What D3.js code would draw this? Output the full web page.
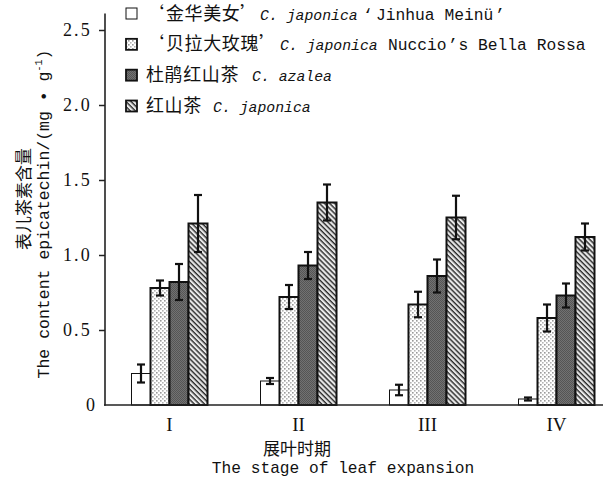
<!DOCTYPE html>
<html><head><meta charset="utf-8">
<script src="https://cdn.jsdelivr.net/npm/d3@7"></script>
<style>
html,body{margin:0;padding:0;background:#fff;}
svg{display:block;}
.cjk{font-family:"Noto Sans CJK SC",sans-serif;}
.mono{font-family:"Liberation Mono","Courier New",monospace;}
</style>
</head><body>
<svg id="chart" width="603" height="482"></svg>
<script>
// ---- data ----
const categories = ["I", "II", "III", "IV"];
const seriesKeys = ["jinhua", "bella", "azalea", "japonica"];
const jinhuaValues   = [0.21, 0.16, 0.10, 0.04];
const jinhuaErrors   = [0.06, 0.02, 0.035, 0.01];
const bellaValues    = [0.78, 0.72, 0.67, 0.58];
const bellaErrors    = [0.05, 0.08, 0.085, 0.09];
const azaleaValues   = [0.82, 0.93, 0.86, 0.73];
const azaleaErrors   = [0.12, 0.09, 0.11, 0.08];
const japonicaValues = [1.21, 1.35, 1.25, 1.12];
const japonicaErrors = [0.19, 0.12, 0.145, 0.09];
const yTicks = [0, 0.5, 1.0, 1.5, 2.0, 2.5];
const yTickLabels = ["0", "0.5", "1.0", "1.5", "2.0", "2.5"];

const valuesByKey = {jinhua: jinhuaValues, bella: bellaValues, azalea: azaleaValues, japonica: japonicaValues};
const errorsByKey = {jinhua: jinhuaErrors, bella: bellaErrors, azalea: azaleaErrors, japonica: japonicaErrors};
const table = [];
categories.forEach((c, i) => seriesKeys.forEach(k => table.push({cat: c, key: k, v: valuesByKey[k][i], e: errorsByKey[k][i]})));

const svg = d3.select("#chart");
const defs = svg.append("defs");

// patterns
const pDot = defs.append("pattern").attr("id", "pDot").attr("patternUnits", "userSpaceOnUse").attr("width", 4).attr("height", 4);
pDot.append("rect").attr("width", 4).attr("height", 4).attr("fill", "#fff");
pDot.append("rect").attr("x", 0).attr("y", 0).attr("width", 1.6).attr("height", 1.6).attr("fill", "#9a9a9a");
pDot.append("rect").attr("x", 2).attr("y", 2).attr("width", 1.6).attr("height", 1.6).attr("fill", "#b5b5b5");

const pDark = defs.append("pattern").attr("id", "pDark").attr("patternUnits", "userSpaceOnUse").attr("width", 2).attr("height", 2);
pDark.append("rect").attr("width", 2).attr("height", 2).attr("fill", "#727272");
pDark.append("rect").attr("x", 0).attr("y", 0).attr("width", 1).attr("height", 1).attr("fill", "#555");
pDark.append("rect").attr("x", 1).attr("y", 1).attr("width", 1).attr("height", 1).attr("fill", "#555");

const pHatch = defs.append("pattern").attr("id", "pHatch").attr("patternUnits", "userSpaceOnUse")
  .attr("width", 3.6).attr("height", 3.6).attr("patternTransform", "rotate(45)");
pHatch.append("rect").attr("width", 3.6).attr("height", 3.6).attr("fill", "#e8e8e8");
pHatch.append("rect").attr("x", 0).attr("y", 0).attr("width", 3.6).attr("height", 1.4).attr("fill", "#2a2a2a");

const fills = {jinhua: "#fff", bella: "url(#pDot)", azalea: "url(#pDark)", japonica: "url(#pHatch)"};
const strokeW = {jinhua: 1, bella: 2, azalea: 2, japonica: 2};

// scales
const x0 = d3.scaleBand().domain(categories).range([105, 621]).paddingInner(0);
const groupW = 76;
const x1 = d3.scaleBand().domain(seriesKeys).range([0, groupW]);
const y = d3.scaleLinear().domain([0, 2.5]).range([405, 30]);
const gx = c => x0(c) + (x0.bandwidth() - groupW) / 2;

// bars
svg.append("g").selectAll("rect").data(table).join("rect")
  .attr("x", d => gx(d.cat) + x1(d.key))
  .attr("y", d => y(d.v))
  .attr("width", x1.bandwidth())
  .attr("height", d => y(0) - y(d.v))
  .attr("fill", d => fills[d.key])
  .attr("stroke", "#111")
  .attr("stroke-width", d => strokeW[d.key]);

// error bars
const eg = svg.append("g").attr("stroke", "#111").attr("stroke-width", 2.2);
const cx = d => gx(d.cat) + x1(d.key) + x1.bandwidth() / 2;
eg.selectAll("line.v").data(table).join("line").attr("class", "v")
  .attr("x1", cx).attr("x2", cx).attr("y1", d => y(d.v + d.e)).attr("y2", d => y(d.v - d.e));
eg.selectAll("line.t").data(table).join("line").attr("class", "t")
  .attr("x1", d => cx(d) - 4).attr("x2", d => cx(d) + 4).attr("y1", d => y(d.v + d.e)).attr("y2", d => y(d.v + d.e));
eg.selectAll("line.b").data(table).join("line").attr("class", "b")
  .attr("x1", d => cx(d) - 4).attr("x2", d => cx(d) + 4).attr("y1", d => y(d.v - d.e)).attr("y2", d => y(d.v - d.e));

// y axis
const yAxis = d3.axisLeft(y).tickValues(yTicks).tickSize(6).tickPadding(7)
  .tickFormat((d, i) => yTickLabels[i]);
const ya = svg.append("g").attr("transform", "translate(105,0)").call(yAxis);
ya.select(".domain").remove();
ya.selectAll(".tick line").attr("stroke", "#222").attr("stroke-width", 1.5);
ya.selectAll(".tick").filter(d => d === 0).select("line").remove();
ya.selectAll(".tick text").attr("font-size", 18).attr("fill", "#111")
  .attr("letter-spacing", d => d === 0 ? 0 : 2.2).attr("dx", d => d === 0 ? 3 : 0).attr("font-family", "Liberation Serif");
svg.append("line").attr("x1", 105).attr("x2", 105).attr("y1", y(2.61)).attr("y2", y(0) + 0.75)
  .attr("stroke", "#222").attr("stroke-width", 1.6);

// x axis
const xAxis = d3.axisBottom(x0).tickSize(0).tickPadding(10);
const xa = svg.append("g").attr("transform", "translate(0,405)").call(xAxis);
xa.select(".domain").remove();
xa.selectAll(".tick text").attr("font-family", "Liberation Serif").attr("font-size", 19).attr("fill", "#111")
  .attr("dy", "0.72em").attr("y", 12);
svg.append("line").attr("x1", 104).attr("x2", 603).attr("y1", 405).attr("y2", 405)
  .attr("stroke", "#222").attr("stroke-width", 1.6);

// axis titles
svg.append("text").attr("class", "cjk").attr("x", 297).attr("y", 455).attr("text-anchor", "middle")
  .attr("font-size", 17).attr("fill", "#111").text("展叶时期");
svg.append("text").attr("class", "mono").attr("x", 343).attr("y", 473).attr("text-anchor", "middle")
  .attr("font-size", 16.2).attr("fill", "#111").text("The stage of leaf expansion");

svg.append("text").attr("class", "cjk").attr("transform", "translate(30,199) rotate(-90)")
  .attr("text-anchor", "middle").attr("font-size", 17).attr("fill", "#111").text("表儿茶素含量");
const yt2 = svg.append("text").attr("class", "mono").attr("transform", "translate(49,214) rotate(-90)")
  .attr("text-anchor", "middle").attr("font-size", 16.5).attr("fill", "#111");
yt2.append("tspan").text("The content epicatechin/(mg • g");
yt2.append("tspan").attr("font-size", 10).attr("dy", -7).text("-1");
yt2.append("tspan").attr("dy", 7).text(")");

// legend: [font, text, style, x]
const legendRows = [
  {key: "jinhua", parts: [["cjk", "‘", "normal", 146], ["cjk", "金华美女", "normal", 166], ["cjk", "’", "normal", 240],
    ["mono", "C. japonica", "italic", 260], ["mono", "‘", "normal", 363], ["mono", "Jinhua Meinü", "normal", 376], ["mono", "’", "normal", 495]]},
  {key: "bella", parts: [["cjk", "‘", "normal", 146], ["cjk", "贝拉大玫瑰", "normal", 166], ["cjk", "’", "normal", 259],
    ["mono", "C. japonica", "italic", 280], ["mono", "Nuccio", "normal", 388], ["mono", "’", "normal", 448], ["mono", "s Bella Rossa", "normal", 458.5]]},
  {key: "azalea", parts: [["cjk", "杜鹃红山茶", "normal", 146], ["mono", "C. azalea", "italic", 252]]},
  {key: "japonica", parts: [["cjk", "红山茶", "normal", 146], ["mono", "C. japonica", "italic", 213]]}
];
const legendY = d3.scalePoint().domain(seriesKeys).range([13.5, 106]);
const lg = svg.append("g");
legendRows.forEach(r => {
  const cy = legendY(r.key);
  lg.append("rect").attr("x", 126).attr("y", cy - 5.5).attr("width", 11).attr("height", 11)
    .attr("fill", fills[r.key]).attr("stroke", "#111").attr("stroke-width", r.key === "jinhua" ? 1 : 1.8);
  const t = lg.append("text").attr("x", 146).attr("y", cy + 6).attr("fill", "#111");
  r.parts.forEach(p => {
    t.append("tspan").attr("class", p[0]).attr("x", p[3])
      .attr("font-size", p[0] === "cjk" ? 18 : (p[2] === "italic" ? 14.8 : 16.3))
      .attr("letter-spacing", p[0] === "cjk" ? 0.6 : 0)
      .attr("font-style", p[2]).text(p[1]);
  });
});
</script>
</body></html>
